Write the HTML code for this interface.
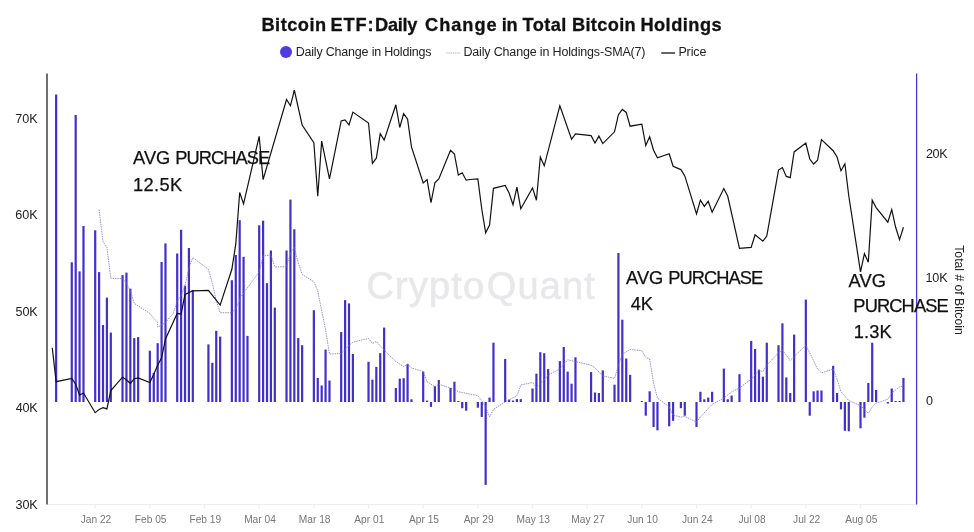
<!DOCTYPE html>
<html><head><meta charset="utf-8"><title>Bitcoin ETF: Daily Change in Total Bitcoin Holdings</title>
<style>
html,body{margin:0;padding:0;background:#fff;}
body{width:974px;height:532px;position:relative;overflow:hidden;font-family:"Liberation Sans",sans-serif;color:#111;}
.t{position:absolute;white-space:pre;}
.dot{position:absolute;left:279.6px;top:45.6px;width:12.4px;height:12.4px;border-radius:50%;background:#4f3be0;}
.wm{position:absolute;left:368px;top:266px;font-size:36px;line-height:42px;color:#e3e3e6;letter-spacing:0.5px;white-space:nowrap;}
.rot{position:absolute;left:959.3px;top:290.1px;font-size:12.2px;line-height:14px;color:#222;white-space:nowrap;transform:translate(-50%,-50%) rotate(90deg);}
</style></head><body>
<div class="t" style="left:366.45px;top:266.83px;font-size:38px;line-height:38px;letter-spacing:1.130px;color:#e8e8eb;-webkit-text-stroke:0.6px #e8e8eb;">Crypto</div>
<div class="t" style="left:486.80px;top:266.83px;font-size:38px;line-height:38px;letter-spacing:1.125px;color:#e8e8eb;-webkit-text-stroke:0.6px #e8e8eb;">Quant</div>
<svg width="974" height="532" viewBox="0 0 974 532" style="position:absolute;left:0;top:0">
<line x1="47" y1="504.5" x2="916" y2="504.5" stroke="#ececf2" stroke-width="1"/>
<line x1="95.2" y1="504" x2="95.2" y2="508.5" stroke="#ececf2" stroke-width="1"/>
<line x1="149.9" y1="504" x2="149.9" y2="508.5" stroke="#ececf2" stroke-width="1"/>
<line x1="204.5" y1="504" x2="204.5" y2="508.5" stroke="#ececf2" stroke-width="1"/>
<line x1="259.2" y1="504" x2="259.2" y2="508.5" stroke="#ececf2" stroke-width="1"/>
<line x1="313.9" y1="504" x2="313.9" y2="508.5" stroke="#ececf2" stroke-width="1"/>
<line x1="368.5" y1="504" x2="368.5" y2="508.5" stroke="#ececf2" stroke-width="1"/>
<line x1="423.2" y1="504" x2="423.2" y2="508.5" stroke="#ececf2" stroke-width="1"/>
<line x1="477.9" y1="504" x2="477.9" y2="508.5" stroke="#ececf2" stroke-width="1"/>
<line x1="532.5" y1="504" x2="532.5" y2="508.5" stroke="#ececf2" stroke-width="1"/>
<line x1="587.2" y1="504" x2="587.2" y2="508.5" stroke="#ececf2" stroke-width="1"/>
<line x1="641.8" y1="504" x2="641.8" y2="508.5" stroke="#ececf2" stroke-width="1"/>
<line x1="696.5" y1="504" x2="696.5" y2="508.5" stroke="#ececf2" stroke-width="1"/>
<line x1="751.2" y1="504" x2="751.2" y2="508.5" stroke="#ececf2" stroke-width="1"/>
<line x1="805.8" y1="504" x2="805.8" y2="508.5" stroke="#ececf2" stroke-width="1"/>
<line x1="860.5" y1="504" x2="860.5" y2="508.5" stroke="#ececf2" stroke-width="1"/>
<rect x="55.05" y="94.5" width="2.2" height="307.5" fill="#4131c8"/>
<rect x="70.67" y="262.3" width="2.2" height="139.7" fill="#4131c8"/>
<rect x="74.58" y="115.0" width="2.2" height="287.0" fill="#4131c8"/>
<rect x="78.48" y="271.4" width="2.2" height="130.6" fill="#4131c8"/>
<rect x="82.39" y="226.0" width="2.2" height="176.0" fill="#4131c8"/>
<rect x="94.10" y="230.3" width="2.2" height="171.7" fill="#4131c8"/>
<rect x="98.00" y="272.1" width="2.2" height="129.9" fill="#4131c8"/>
<rect x="101.91" y="325.0" width="2.2" height="77.0" fill="#4131c8"/>
<rect x="105.81" y="297.6" width="2.2" height="104.4" fill="#4131c8"/>
<rect x="109.72" y="332.6" width="2.2" height="69.4" fill="#4131c8"/>
<rect x="121.43" y="275.1" width="2.2" height="126.9" fill="#4131c8"/>
<rect x="125.34" y="272.6" width="2.2" height="129.4" fill="#4131c8"/>
<rect x="129.24" y="288.7" width="2.2" height="113.3" fill="#4131c8"/>
<rect x="133.15" y="338.1" width="2.2" height="63.9" fill="#4131c8"/>
<rect x="137.05" y="337.1" width="2.2" height="64.9" fill="#4131c8"/>
<rect x="148.76" y="350.7" width="2.2" height="51.3" fill="#4131c8"/>
<rect x="152.67" y="372.9" width="2.2" height="29.1" fill="#4131c8"/>
<rect x="156.57" y="343.2" width="2.2" height="58.8" fill="#4131c8"/>
<rect x="160.48" y="262.0" width="2.2" height="140.0" fill="#4131c8"/>
<rect x="164.38" y="243.4" width="2.2" height="158.6" fill="#4131c8"/>
<rect x="176.10" y="253.5" width="2.2" height="148.5" fill="#4131c8"/>
<rect x="180.00" y="229.8" width="2.2" height="172.2" fill="#4131c8"/>
<rect x="183.91" y="285.7" width="2.2" height="116.3" fill="#4131c8"/>
<rect x="187.81" y="248.0" width="2.2" height="154.0" fill="#4131c8"/>
<rect x="191.71" y="290.0" width="2.2" height="112.0" fill="#4131c8"/>
<rect x="207.33" y="344.4" width="2.2" height="57.6" fill="#4131c8"/>
<rect x="211.24" y="362.8" width="2.2" height="39.2" fill="#4131c8"/>
<rect x="215.14" y="330.8" width="2.2" height="71.2" fill="#4131c8"/>
<rect x="219.05" y="336.6" width="2.2" height="65.4" fill="#4131c8"/>
<rect x="230.76" y="280.2" width="2.2" height="121.8" fill="#4131c8"/>
<rect x="234.67" y="255.0" width="2.2" height="147.0" fill="#4131c8"/>
<rect x="238.57" y="220.2" width="2.2" height="181.8" fill="#4131c8"/>
<rect x="242.47" y="256.8" width="2.2" height="145.2" fill="#4131c8"/>
<rect x="246.38" y="335.9" width="2.2" height="66.1" fill="#4131c8"/>
<rect x="258.09" y="225.3" width="2.2" height="176.7" fill="#4131c8"/>
<rect x="262.00" y="220.7" width="2.2" height="181.3" fill="#4131c8"/>
<rect x="265.90" y="283.2" width="2.2" height="118.8" fill="#4131c8"/>
<rect x="269.81" y="250.5" width="2.2" height="151.5" fill="#4131c8"/>
<rect x="273.71" y="307.6" width="2.2" height="94.4" fill="#4131c8"/>
<rect x="285.43" y="250.5" width="2.2" height="151.5" fill="#4131c8"/>
<rect x="289.33" y="199.6" width="2.2" height="202.4" fill="#4131c8"/>
<rect x="293.23" y="229.3" width="2.2" height="172.7" fill="#4131c8"/>
<rect x="297.14" y="338.1" width="2.2" height="63.9" fill="#4131c8"/>
<rect x="301.04" y="345.2" width="2.2" height="56.8" fill="#4131c8"/>
<rect x="312.76" y="310.2" width="2.2" height="91.8" fill="#4131c8"/>
<rect x="316.66" y="377.9" width="2.2" height="24.1" fill="#4131c8"/>
<rect x="320.57" y="385.5" width="2.2" height="16.5" fill="#4131c8"/>
<rect x="324.47" y="349.5" width="2.2" height="52.5" fill="#4131c8"/>
<rect x="328.38" y="380.5" width="2.2" height="21.5" fill="#4131c8"/>
<rect x="340.09" y="332.1" width="2.2" height="69.9" fill="#4131c8"/>
<rect x="343.99" y="300.1" width="2.2" height="101.9" fill="#4131c8"/>
<rect x="347.90" y="303.4" width="2.2" height="98.6" fill="#4131c8"/>
<rect x="351.80" y="354.0" width="2.2" height="48.0" fill="#4131c8"/>
<rect x="367.42" y="361.8" width="2.2" height="40.2" fill="#4131c8"/>
<rect x="371.33" y="379.7" width="2.2" height="22.3" fill="#4131c8"/>
<rect x="375.23" y="366.9" width="2.2" height="35.1" fill="#4131c8"/>
<rect x="379.14" y="353.2" width="2.2" height="48.8" fill="#4131c8"/>
<rect x="383.04" y="327.6" width="2.2" height="74.4" fill="#4131c8"/>
<rect x="394.75" y="388.0" width="2.2" height="14.0" fill="#4131c8"/>
<rect x="398.66" y="378.7" width="2.2" height="23.3" fill="#4131c8"/>
<rect x="402.56" y="378.2" width="2.2" height="23.8" fill="#4131c8"/>
<rect x="406.47" y="364.1" width="2.2" height="37.9" fill="#4131c8"/>
<rect x="410.37" y="399.3" width="2.2" height="2.7" fill="#4131c8"/>
<rect x="422.09" y="371.6" width="2.2" height="30.4" fill="#4131c8"/>
<rect x="425.99" y="400.6" width="2.2" height="1.4" fill="#4131c8"/>
<rect x="429.90" y="402.0" width="2.2" height="4.9" fill="#4131c8"/>
<rect x="433.80" y="386.2" width="2.2" height="15.8" fill="#4131c8"/>
<rect x="437.70" y="380.0" width="2.2" height="22.0" fill="#4131c8"/>
<rect x="449.42" y="388.0" width="2.2" height="14.0" fill="#4131c8"/>
<rect x="453.32" y="381.7" width="2.2" height="20.3" fill="#4131c8"/>
<rect x="457.23" y="401.0" width="2.2" height="1.0" fill="#4131c8"/>
<rect x="461.13" y="402.0" width="2.2" height="6.2" fill="#4131c8"/>
<rect x="465.04" y="402.0" width="2.2" height="8.7" fill="#4131c8"/>
<rect x="476.75" y="402.0" width="2.2" height="5.7" fill="#4131c8"/>
<rect x="480.66" y="402.0" width="2.2" height="15.0" fill="#4131c8"/>
<rect x="484.56" y="402.0" width="2.2" height="82.9" fill="#4131c8"/>
<rect x="488.46" y="397.6" width="2.2" height="4.4" fill="#4131c8"/>
<rect x="492.37" y="342.7" width="2.2" height="59.3" fill="#4131c8"/>
<rect x="504.08" y="359.0" width="2.2" height="43.0" fill="#4131c8"/>
<rect x="507.99" y="399.6" width="2.2" height="2.4" fill="#4131c8"/>
<rect x="511.89" y="400.5" width="2.2" height="1.5" fill="#4131c8"/>
<rect x="515.80" y="399.1" width="2.2" height="2.9" fill="#4131c8"/>
<rect x="519.70" y="399.1" width="2.2" height="2.9" fill="#4131c8"/>
<rect x="531.42" y="388.5" width="2.2" height="13.5" fill="#4131c8"/>
<rect x="535.32" y="373.7" width="2.2" height="28.3" fill="#4131c8"/>
<rect x="539.22" y="352.2" width="2.2" height="49.8" fill="#4131c8"/>
<rect x="543.13" y="353.2" width="2.2" height="48.8" fill="#4131c8"/>
<rect x="547.03" y="369.1" width="2.2" height="32.9" fill="#4131c8"/>
<rect x="558.75" y="361.1" width="2.2" height="40.9" fill="#4131c8"/>
<rect x="562.65" y="347.0" width="2.2" height="55.0" fill="#4131c8"/>
<rect x="566.56" y="371.6" width="2.2" height="30.4" fill="#4131c8"/>
<rect x="570.46" y="383.7" width="2.2" height="18.3" fill="#4131c8"/>
<rect x="574.37" y="357.3" width="2.2" height="44.7" fill="#4131c8"/>
<rect x="589.98" y="372.1" width="2.2" height="29.9" fill="#4131c8"/>
<rect x="593.89" y="392.5" width="2.2" height="9.5" fill="#4131c8"/>
<rect x="597.79" y="393.0" width="2.2" height="9.0" fill="#4131c8"/>
<rect x="601.70" y="370.4" width="2.2" height="31.6" fill="#4131c8"/>
<rect x="613.41" y="384.7" width="2.2" height="17.3" fill="#4131c8"/>
<rect x="617.32" y="253.0" width="2.2" height="149.0" fill="#4131c8"/>
<rect x="621.22" y="319.7" width="2.2" height="82.3" fill="#4131c8"/>
<rect x="625.13" y="358.5" width="2.2" height="43.5" fill="#4131c8"/>
<rect x="629.03" y="374.9" width="2.2" height="27.1" fill="#4131c8"/>
<rect x="640.74" y="401.0" width="2.2" height="1.0" fill="#4131c8"/>
<rect x="644.65" y="402.0" width="2.2" height="13.7" fill="#4131c8"/>
<rect x="648.55" y="391.3" width="2.2" height="10.7" fill="#4131c8"/>
<rect x="652.46" y="402.0" width="2.2" height="25.0" fill="#4131c8"/>
<rect x="656.36" y="402.0" width="2.2" height="28.3" fill="#4131c8"/>
<rect x="668.08" y="402.0" width="2.2" height="24.3" fill="#4131c8"/>
<rect x="671.98" y="402.0" width="2.2" height="18.8" fill="#4131c8"/>
<rect x="679.79" y="402.0" width="2.2" height="6.2" fill="#4131c8"/>
<rect x="683.69" y="402.0" width="2.2" height="13.7" fill="#4131c8"/>
<rect x="695.41" y="402.0" width="2.2" height="25.0" fill="#4131c8"/>
<rect x="699.31" y="391.8" width="2.2" height="10.2" fill="#4131c8"/>
<rect x="703.22" y="399.3" width="2.2" height="2.7" fill="#4131c8"/>
<rect x="707.12" y="397.6" width="2.2" height="4.4" fill="#4131c8"/>
<rect x="711.03" y="391.8" width="2.2" height="10.2" fill="#4131c8"/>
<rect x="722.74" y="368.6" width="2.2" height="33.4" fill="#4131c8"/>
<rect x="726.65" y="399.3" width="2.2" height="2.7" fill="#4131c8"/>
<rect x="730.55" y="395.6" width="2.2" height="6.4" fill="#4131c8"/>
<rect x="738.36" y="374.2" width="2.2" height="27.8" fill="#4131c8"/>
<rect x="750.07" y="340.9" width="2.2" height="61.1" fill="#4131c8"/>
<rect x="753.98" y="349.0" width="2.2" height="53.0" fill="#4131c8"/>
<rect x="757.88" y="369.6" width="2.2" height="32.4" fill="#4131c8"/>
<rect x="761.79" y="376.7" width="2.2" height="25.3" fill="#4131c8"/>
<rect x="765.69" y="342.7" width="2.2" height="59.3" fill="#4131c8"/>
<rect x="777.40" y="345.2" width="2.2" height="56.8" fill="#4131c8"/>
<rect x="781.31" y="323.3" width="2.2" height="78.7" fill="#4131c8"/>
<rect x="785.21" y="377.4" width="2.2" height="24.6" fill="#4131c8"/>
<rect x="789.12" y="393.0" width="2.2" height="9.0" fill="#4131c8"/>
<rect x="793.02" y="334.6" width="2.2" height="67.4" fill="#4131c8"/>
<rect x="804.74" y="299.6" width="2.2" height="102.4" fill="#4131c8"/>
<rect x="808.64" y="402.0" width="2.2" height="13.7" fill="#4131c8"/>
<rect x="812.55" y="391.3" width="2.2" height="10.7" fill="#4131c8"/>
<rect x="816.45" y="390.5" width="2.2" height="11.5" fill="#4131c8"/>
<rect x="820.36" y="390.5" width="2.2" height="11.5" fill="#4131c8"/>
<rect x="832.07" y="365.8" width="2.2" height="36.2" fill="#4131c8"/>
<rect x="835.97" y="393.0" width="2.2" height="9.0" fill="#4131c8"/>
<rect x="839.88" y="402.0" width="2.2" height="7.4" fill="#4131c8"/>
<rect x="843.78" y="402.0" width="2.2" height="28.8" fill="#4131c8"/>
<rect x="847.69" y="402.0" width="2.2" height="29.3" fill="#4131c8"/>
<rect x="859.40" y="402.0" width="2.2" height="26.3" fill="#4131c8"/>
<rect x="863.31" y="402.0" width="2.2" height="15.7" fill="#4131c8"/>
<rect x="867.21" y="383.0" width="2.2" height="19.0" fill="#4131c8"/>
<rect x="871.12" y="342.7" width="2.2" height="59.3" fill="#4131c8"/>
<rect x="875.02" y="390.0" width="2.2" height="12.0" fill="#4131c8"/>
<rect x="886.73" y="402.0" width="2.2" height="1.5" fill="#4131c8"/>
<rect x="890.64" y="388.5" width="2.2" height="13.5" fill="#4131c8"/>
<rect x="894.54" y="401.0" width="2.2" height="1.0" fill="#4131c8"/>
<rect x="898.45" y="401.0" width="2.2" height="1.0" fill="#4131c8"/>
<rect x="902.35" y="377.9" width="2.2" height="24.1" fill="#4131c8"/>
<polyline points="99.1,209.6 103.01,241.6 106.91,247.4 110.82,278.2 122.53,278.7 126.44,283.2 130.34,290.8 134.25,303.4 138.15,305.9 149.86,313.4 153.77,318.5 157.67,322.2 157.67,327.1 161.58,325.0 165.48,322.5 173.29,313.4 177.2,300.8 181.1,295.8 185.01,285.7 188.91,268.1 192.81,257.5 208.43,269.3 212.34,283.2 216.24,300.8 220.15,312.7 231.86,312.7 235.77,308.4 239.67,300.8 239.67,298.3 259.19,271.9 263.1,256.0 270.91,255.0 274.81,266.8 286.53,266.8 290.43,253.0 294.33,247.4 298.24,263.0 302.14,274.4 313.86,281.9 317.76,290.8 321.67,310.9 325.57,330.1 329.48,354.0 341.19,353.5 349.0,345.2 352.9,342.2 368.52,338.4 372.43,343.4 376.33,341.4 384.14,350.2 395.85,361.6 403.66,366.6 407.57,364.1 411.47,367.9 423.19,371.6 427.09,381.7 431.0,384.2 434.9,386.8 438.8,384.2 450.52,388.0 454.42,389.3 458.33,391.8 462.23,392.5 477.85,395.6 481.76,400.6 485.66,406.9 489.56,417.0 493.47,409.4 505.18,401.9 516.9,395.6 520.8,385.0 532.52,382.5 536.42,387.5 544.23,379.9 548.13,374.9 559.85,369.1 567.66,359.8 575.47,361.6 591.08,365.3 594.99,367.9 602.8,375.9 614.51,378.4 618.42,365.3 622.32,354.0 630.13,349.5 641.84,350.7 645.75,357.3 649.65,359.0 653.56,383.0 657.46,398.1 669.18,406.9 673.08,415.2 680.89,417.0 684.79,416.5 696.51,422.0 700.41,417.0 712.13,404.4 723.84,398.1 731.65,391.8 739.46,388.0 751.17,379.2 758.98,370.4 762.89,371.6 766.79,365.3 778.5,352.7 782.41,350.2 790.22,360.3 794.12,356.5 805.84,345.2 809.74,352.7 817.55,369.1 821.46,372.9 833.17,369.1 837.07,379.2 840.98,391.8 848.79,400.6 860.5,405.6 864.41,409.4 868.31,413.2 872.22,406.9 876.12,403.1 887.83,399.3 891.74,393.0 899.55,386.8 903.45,386.0" fill="none" stroke="#7d74c8" stroke-width="0.8" stroke-dasharray="1.5,0.9" />
<polyline points="52.25,347.7 56.15,381.7 71.77,378.4 75.68,384.2 79.58,395.1 83.49,393.0 95.2,412.7 99.1,409.4 103.01,407.7 106.91,408.9 110.82,390.5 122.53,377.2 126.44,379.7 130.34,383.5 134.25,378.7 138.15,377.9 149.86,382.5 153.77,374.2 157.67,365.3 161.58,357.8 165.48,338.9 177.2,313.4 181.1,314.2 185.01,294.5 192.81,290.8 208.43,290.3 220.15,305.1 231.86,269.3 235.77,244.2 239.67,192.5 243.57,203.9 259.19,136.3 263.1,179.6 286.53,99.5 290.43,105.8 294.33,90.2 302.14,125.0 313.86,142.6 317.76,196.3 321.67,141.1 329.48,178.9 341.19,121.0 345.09,119.9 349.0,125.0 352.9,112.1 368.52,123.0 372.43,163.3 376.33,158.2 380.24,133.8 384.14,140.1 395.85,104.8 399.76,127.5 403.66,113.7 407.57,119.2 411.47,146.9 423.19,182.9 427.09,179.6 431.0,202.6 434.9,182.7 438.8,178.9 450.52,150.2 454.42,154.0 458.33,175.1 462.23,172.8 466.14,180.2 470.04,179.5 477.85,179.0 481.76,209.0 485.66,232.8 489.56,225.1 493.47,188.3 505.18,185.4 509.09,193.0 512.99,204.8 516.9,187.1 520.8,208.7 532.52,187.9 536.42,200.3 540.32,157.0 544.23,165.8 559.85,105.8 571.56,139.3 575.47,133.8 591.08,135.6 594.99,143.1 598.89,136.1 602.8,143.6 614.51,131.8 618.42,114.7 622.32,109.4 626.23,112.4 630.13,126.2 641.84,124.2 645.75,145.6 649.65,136.8 653.56,150.2 657.46,157.7 669.18,153.7 673.08,166.3 680.89,169.6 684.79,175.9 696.51,213.9 700.41,200.1 704.32,206.4 708.22,201.3 712.13,212.2 723.84,188.5 727.75,196.3 739.46,248.4 751.17,247.4 755.08,234.8 762.89,241.1 766.79,236.1 778.5,170.1 782.41,167.6 786.31,176.4 790.22,177.6 794.12,151.9 805.84,143.1 809.74,159.0 813.65,164.0 817.55,160.3 821.46,139.6 833.17,150.7 837.07,157.0 840.98,170.8 844.88,163.8 848.79,196.0 860.5,271.9 864.41,253.7 868.31,262.3 872.22,200.1 876.12,207.6 887.83,222.2 891.74,209.6 895.64,227.3 899.55,239.6 903.45,227.3" fill="none" stroke="#111" stroke-width="1.2" stroke-linejoin="miter"/>
<line x1="47" y1="73.5" x2="47" y2="504.5" stroke="#222" stroke-width="1.3"/>
<line x1="916.6" y1="73.5" x2="916.6" y2="504.5" stroke="#4838cc" stroke-width="1.3"/>
</svg>
<div class="dot"></div>
<svg width="16" height="4" style="position:absolute;left:446px;top:51.2px"><line x1="0.3" y1="2" x2="14.2" y2="2" stroke="#a097e8" stroke-width="1" stroke-dasharray="1.2,1"/></svg>
<svg width="16" height="4" style="position:absolute;left:661px;top:51.2px"><line x1="0.3" y1="2" x2="14.1" y2="2" stroke="#111" stroke-width="1.3"/></svg>
<div class="t" style="left:261.40px;top:15.79px;font-size:18.2px;line-height:18.2px;letter-spacing:0.525px;color:#111;font-weight:bold;-webkit-text-stroke:0.3px #111;">Bitcoin</div>
<div class="t" style="left:330.40px;top:15.79px;font-size:18.2px;line-height:18.2px;letter-spacing:0.917px;color:#111;font-weight:bold;-webkit-text-stroke:0.3px #111;">ETF:</div>
<div class="t" style="left:375.10px;top:15.79px;font-size:18.2px;line-height:18.2px;letter-spacing:-0.300px;color:#111;font-weight:bold;-webkit-text-stroke:0.3px #111;">Daily</div>
<div class="t" style="left:425.10px;top:15.79px;font-size:18.2px;line-height:18.2px;letter-spacing:0.970px;color:#111;font-weight:bold;-webkit-text-stroke:0.3px #111;">Change</div>
<div class="t" style="left:501.80px;top:15.79px;font-size:18.2px;line-height:18.2px;letter-spacing:-0.250px;color:#111;font-weight:bold;-webkit-text-stroke:0.3px #111;">in</div>
<div class="t" style="left:522.50px;top:15.79px;font-size:18.2px;line-height:18.2px;letter-spacing:0.425px;color:#111;font-weight:bold;-webkit-text-stroke:0.3px #111;">Total</div>
<div class="t" style="left:571.90px;top:15.79px;font-size:18.2px;line-height:18.2px;letter-spacing:0.358px;color:#111;font-weight:bold;-webkit-text-stroke:0.3px #111;">Bitcoin</div>
<div class="t" style="left:640.40px;top:15.79px;font-size:18.2px;line-height:18.2px;letter-spacing:0.493px;color:#111;font-weight:bold;-webkit-text-stroke:0.3px #111;">Holdings</div>
<div class="t" style="left:295.70px;top:45.92px;font-size:12.5px;line-height:12.5px;letter-spacing:-0.196px;color:#222;">Daily Change in Holdings</div>
<div class="t" style="left:463.40px;top:45.92px;font-size:12.5px;line-height:12.5px;letter-spacing:-0.158px;color:#222;">Daily Change in Holdings-SMA(7)</div>
<div class="t" style="left:678.40px;top:45.92px;font-size:12.5px;line-height:12.5px;letter-spacing:-0.125px;color:#222;">Price</div>
<div class="t" style="left:15.35px;top:113.03px;font-size:12.6px;line-height:12.6px;letter-spacing:-0.050px;color:#222;">70K</div>
<div class="t" style="left:15.35px;top:209.43px;font-size:12.6px;line-height:12.6px;letter-spacing:-0.050px;color:#222;">60K</div>
<div class="t" style="left:15.60px;top:305.83px;font-size:12.6px;line-height:12.6px;letter-spacing:-0.175px;color:#222;">50K</div>
<div class="t" style="left:15.85px;top:402.23px;font-size:12.6px;line-height:12.6px;letter-spacing:-0.300px;color:#222;">40K</div>
<div class="t" style="left:15.60px;top:498.63px;font-size:12.6px;line-height:12.6px;letter-spacing:-0.175px;color:#222;">30K</div>
<div class="t" style="left:925.90px;top:148.33px;font-size:12.6px;line-height:12.6px;letter-spacing:-0.275px;color:#222;">20K</div>
<div class="t" style="left:925.40px;top:271.63px;font-size:12.6px;line-height:12.6px;letter-spacing:-0.125px;color:#222;">10K</div>
<div class="t" style="left:926.10px;top:395.23px;font-size:12.6px;line-height:12.6px;letter-spacing:0.000px;color:#222;">0</div>
<div class="t" style="left:133.10px;top:149.41px;font-size:18.3px;line-height:18.3px;letter-spacing:-0.050px;color:#111;-webkit-text-stroke:0.25px #111;">AVG</div>
<div class="t" style="left:175.15px;top:149.41px;font-size:18.3px;line-height:18.3px;letter-spacing:-0.921px;color:#111;-webkit-text-stroke:0.25px #111;">PURCHASE</div>
<div class="t" style="left:133.05px;top:175.61px;font-size:18.3px;line-height:18.3px;letter-spacing:0.312px;color:#111;-webkit-text-stroke:0.25px #111;">12.5K</div>
<div class="t" style="left:626.10px;top:268.91px;font-size:18.3px;line-height:18.3px;letter-spacing:-0.050px;color:#111;-webkit-text-stroke:0.25px #111;">AVG</div>
<div class="t" style="left:668.15px;top:268.91px;font-size:18.3px;line-height:18.3px;letter-spacing:-0.921px;color:#111;-webkit-text-stroke:0.25px #111;">PURCHASE</div>
<div class="t" style="left:630.65px;top:295.11px;font-size:18.3px;line-height:18.3px;letter-spacing:-0.100px;color:#111;-webkit-text-stroke:0.25px #111;">4K</div>
<div class="t" style="left:848.40px;top:271.61px;font-size:18.3px;line-height:18.3px;letter-spacing:0.150px;color:#111;-webkit-text-stroke:0.25px #111;">AVG</div>
<div class="t" style="left:853.35px;top:297.31px;font-size:18.3px;line-height:18.3px;letter-spacing:-0.893px;color:#111;-webkit-text-stroke:0.25px #111;">PURCHASE</div>
<div class="t" style="left:853.85px;top:323.11px;font-size:18.3px;line-height:18.3px;letter-spacing:0.050px;color:#111;-webkit-text-stroke:0.25px #111;">1.3K</div>
<div class="t" style="left:66.00px;width:60px;text-align:center;top:514.67px;font-size:10.2px;line-height:10.2px;color:#777">Jan 22</div>
<div class="t" style="left:120.66px;width:60px;text-align:center;top:514.67px;font-size:10.2px;line-height:10.2px;color:#777">Feb 05</div>
<div class="t" style="left:175.33px;width:60px;text-align:center;top:514.67px;font-size:10.2px;line-height:10.2px;color:#777">Feb 19</div>
<div class="t" style="left:229.99px;width:60px;text-align:center;top:514.67px;font-size:10.2px;line-height:10.2px;color:#777">Mar 04</div>
<div class="t" style="left:284.66px;width:60px;text-align:center;top:514.67px;font-size:10.2px;line-height:10.2px;color:#777">Mar 18</div>
<div class="t" style="left:339.32px;width:60px;text-align:center;top:514.67px;font-size:10.2px;line-height:10.2px;color:#777">Apr 01</div>
<div class="t" style="left:393.99px;width:60px;text-align:center;top:514.67px;font-size:10.2px;line-height:10.2px;color:#777">Apr 15</div>
<div class="t" style="left:448.65px;width:60px;text-align:center;top:514.67px;font-size:10.2px;line-height:10.2px;color:#777">Apr 29</div>
<div class="t" style="left:503.32px;width:60px;text-align:center;top:514.67px;font-size:10.2px;line-height:10.2px;color:#777">May 13</div>
<div class="t" style="left:557.98px;width:60px;text-align:center;top:514.67px;font-size:10.2px;line-height:10.2px;color:#777">May 27</div>
<div class="t" style="left:612.64px;width:60px;text-align:center;top:514.67px;font-size:10.2px;line-height:10.2px;color:#777">Jun 10</div>
<div class="t" style="left:667.31px;width:60px;text-align:center;top:514.67px;font-size:10.2px;line-height:10.2px;color:#777">Jun 24</div>
<div class="t" style="left:721.97px;width:60px;text-align:center;top:514.67px;font-size:10.2px;line-height:10.2px;color:#777">Jul 08</div>
<div class="t" style="left:776.64px;width:60px;text-align:center;top:514.67px;font-size:10.2px;line-height:10.2px;color:#777">Jul 22</div>
<div class="t" style="left:831.30px;width:60px;text-align:center;top:514.67px;font-size:10.2px;line-height:10.2px;color:#777">Aug 05</div>
<div class="rot">Total # of Bitcoin</div>
</body></html>
